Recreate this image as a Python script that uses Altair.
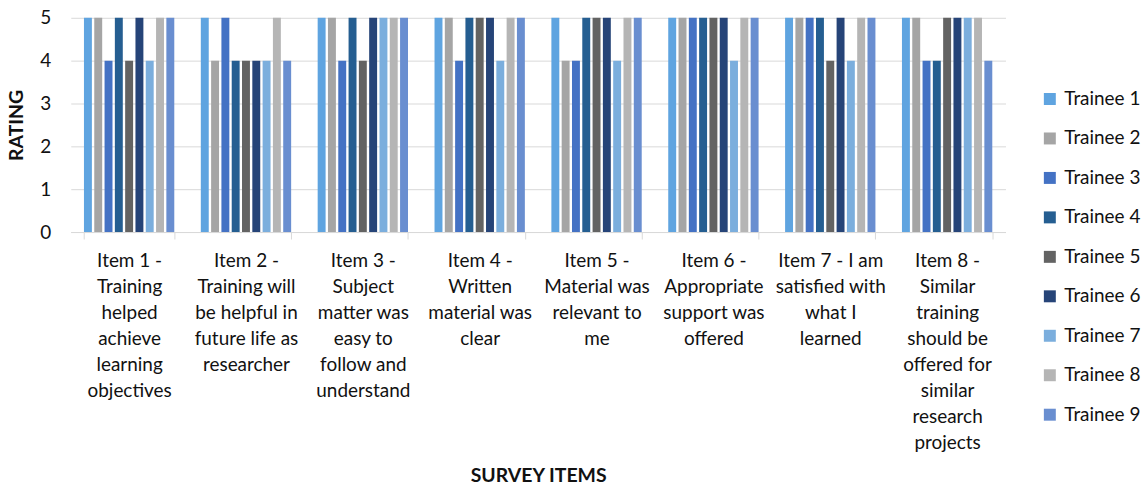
import altair as alt
import pandas as pd

items = [
    "Item 1 -|Training|helped|achieve|learning|objectives",
    "Item 2 -|Training will|be helpful in|future life as|researcher",
    "Item 3 -|Subject|matter was|easy to|follow and|understand",
    "Item 4 -|Written|material was|clear",
    "Item 5 -|Material was|relevant to|me",
    "Item 6 -|Appropriate|support was|offered",
    "Item 7 - I am|satisfied with|what I|learned",
    "Item 8 -|Similar|training|should be|offered for|similar|research|projects",
]
trainees = [f"Trainee {i}" for i in range(1, 10)]
ratings = [
    [5, 5, 4, 5, 4, 5, 4, 5, 5],
    [5, 4, 5, 4, 4, 4, 4, 5, 4],
    [5, 5, 4, 5, 4, 5, 5, 5, 5],
    [5, 5, 4, 5, 5, 5, 4, 5, 5],
    [5, 4, 4, 5, 5, 5, 4, 5, 5],
    [5, 5, 5, 5, 5, 5, 4, 5, 5],
    [5, 5, 5, 5, 4, 5, 4, 5, 5],
    [5, 5, 4, 4, 5, 5, 5, 5, 4],
]
y_ticks = [0, 1, 2, 3, 4, 5]
colors = ["#5FA4E0", "#A5A5A5", "#4472C4", "#255E91", "#636363",
          "#264478", "#7BAEDD", "#B5B5B5", "#698ED0"]

rows = []
for item, vals in zip(items, ratings):
    for t, v in zip(trainees, vals):
        rows.append({"item": item, "trainee": t, "rating": v})
df = pd.DataFrame(rows)

FONT = "Lato"
FS = 19
TFS = 19.5

chart = alt.Chart(df).mark_bar().encode(
    x=alt.X("item:N", sort=items,
            scale=alt.Scale(paddingInner=0.227, paddingOuter=0.113),
            axis=alt.Axis(title="SURVEY ITEMS", labelAngle=0,
                          labelExpr="split(datum.label, '|')",
                          labelFontSize=FS, labelLineHeight=26,
                          labelColor="#111", labelFont=FONT,
                          labelPadding=13, labelBaseline="top",
                          labelOverlap=False,
                          tickBand="extent", tickSize=7, tickColor="#d9d9d9",
                          domainColor="#d9d9d9", grid=False,
                          titleFont=FONT, titleFontSize=TFS, titleFontWeight="bold",
                          titleColor="#111", titlePadding=35)),
    xOffset=alt.XOffset("trainee:N", sort=trainees,
                        scale=alt.Scale(paddingInner=0.23, paddingOuter=0)),
    y=alt.Y("rating:Q", scale=alt.Scale(domain=[0, 5], nice=False),
            axis=alt.Axis(title="RATING", values=y_ticks, labelOverlap=False,
                          domain=False, ticks=False, grid=True, gridColor="#d9d9d9",
                          labelFontSize=FS, labelColor="#111", labelFont=FONT,
                          labelPadding=20,
                          titleFont=FONT, titleFontSize=TFS, titleFontWeight="bold",
                          titleColor="#111", titlePadding=13)),
    color=alt.Color("trainee:N", sort=trainees,
                    scale=alt.Scale(domain=trainees, range=colors),
                    legend=alt.Legend(title=None, orient="none",
                                      legendX=973, legendY=72,
                                      symbolType="square", symbolSize=144,
                                      symbolStrokeWidth=0,
                                      labelFontSize=FS, labelFont=FONT,
                                      labelColor="#111", rowPadding=19.6,
                                      labelOffset=5)),
).properties(width=938, height=215, padding={"left": 6, "top": 8, "right": 5, "bottom": 0}
).configure_view(stroke=None)

chart.save("out.html", embed_options={"renderer": "svg", "actions": False})
